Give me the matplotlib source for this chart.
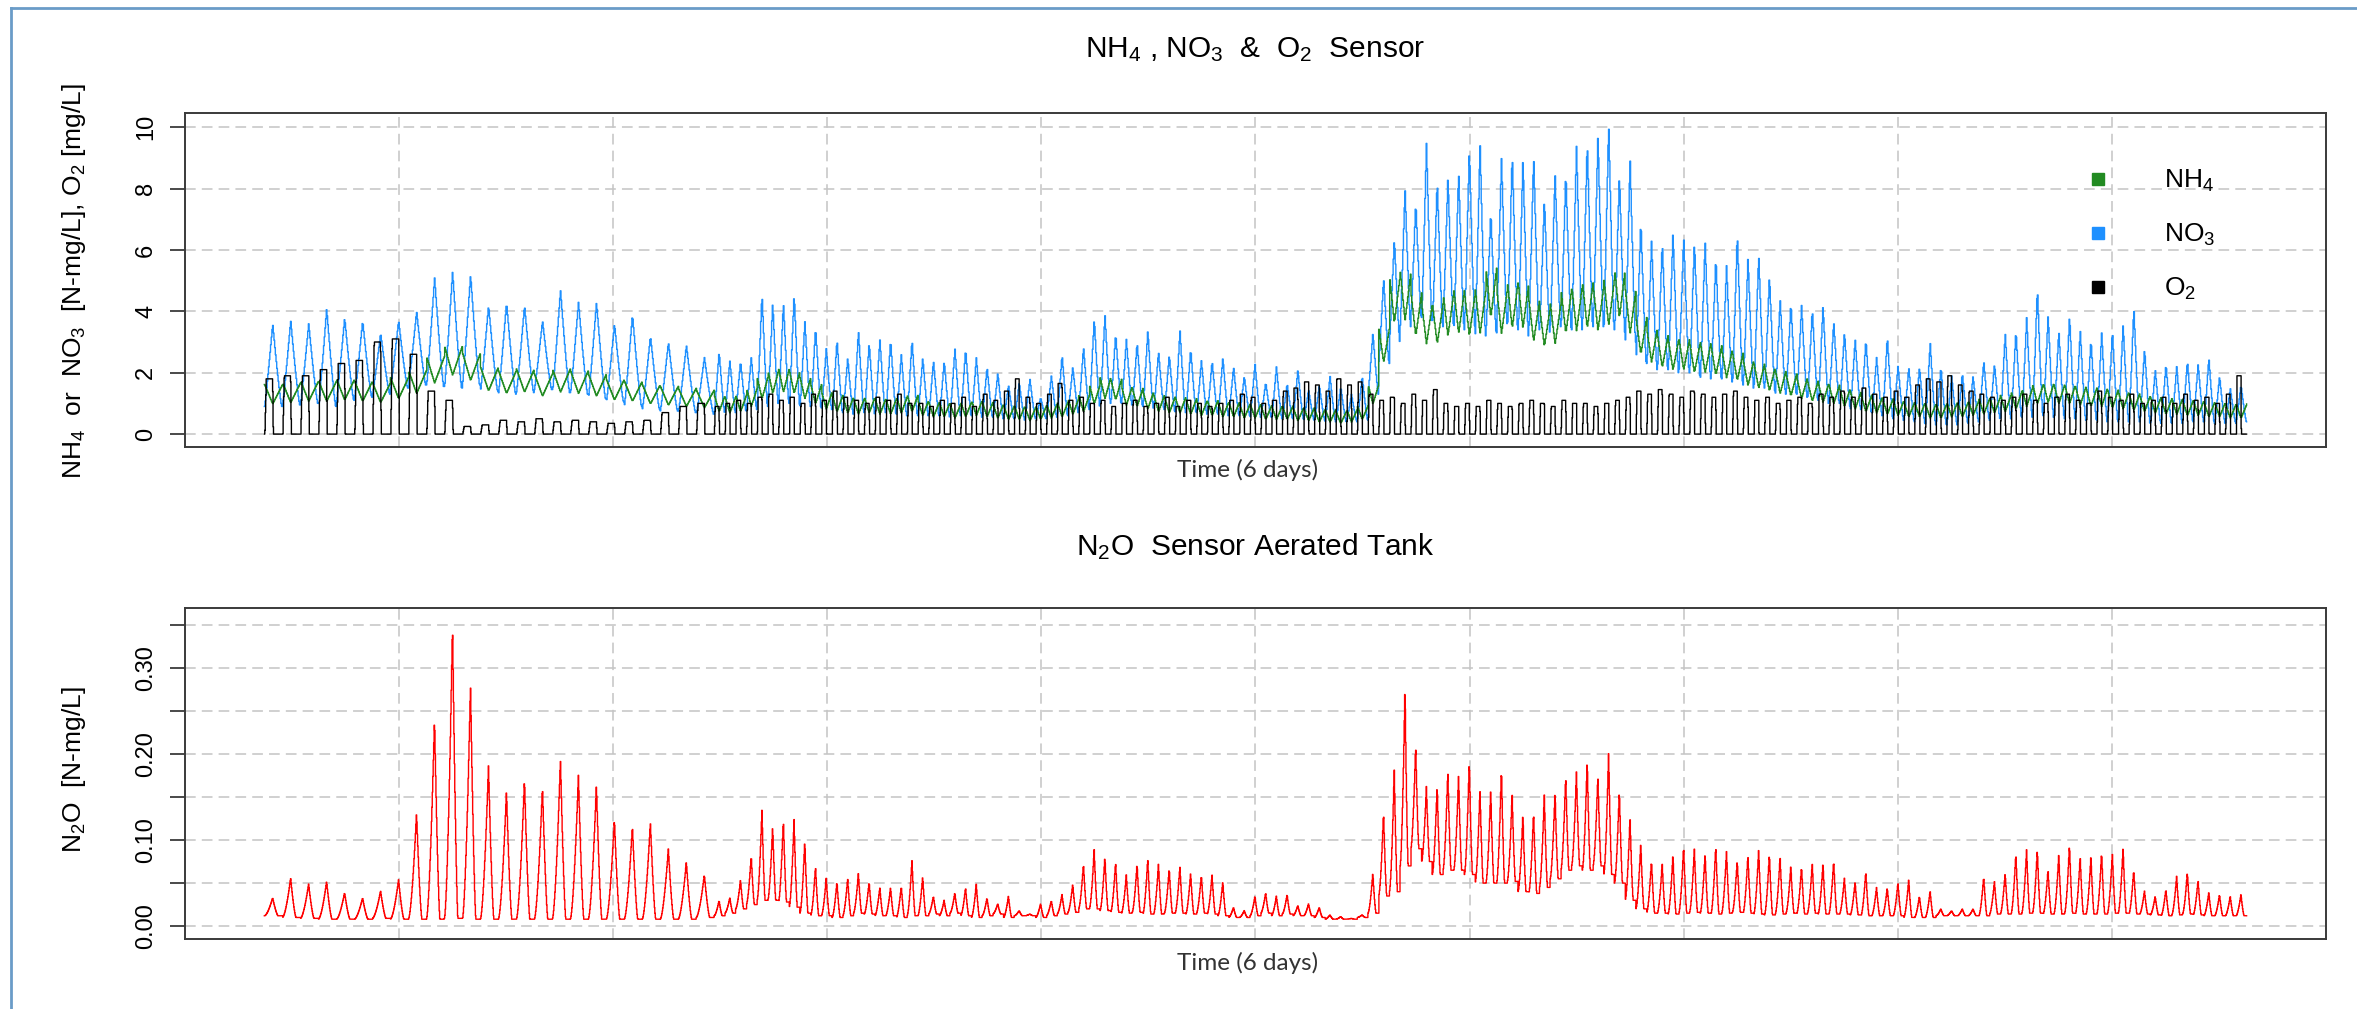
import numpy as np
import matplotlib
matplotlib.use("Agg")
import matplotlib.pyplot as plt
from matplotlib.lines import Line2D

plt.rcParams['font.family'] = ['Liberation Sans', 'DejaVu Sans']
plt.rcParams['mathtext.fontset'] = 'custom'
plt.rcParams['mathtext.rm'] = 'Liberation Sans'
plt.rcParams['mathtext.it'] = 'Liberation Sans:italic'

# ---- data, read per aeration cycle from the picture ----
total_min = 8640          # 6 days, 1 sample / minute
split_min = 1960          # long cycles before, short cycles after
n_cycles_a = 25
n_cycles_b = 143

no3_peak_a = [3.6, 3.7, 3.6, 4.1, 3.8, 3.7, 3.3, 3.7, 4.0, 5.1, 5.3, 5.2, 4.2, 4.3, 4.2, 3.7, 4.7, 4.3, 4.3, 3.6,
              3.9, 3.2, 3.0, 2.9, 2.5]
no3_low_a = [0.9, 0.95, 1.0, 0.9, 1.1, 1.2, 1.3, 1.5, 1.6, 1.55, 1.5, 1.6, 1.4, 1.3, 1.35, 1.45, 1.35, 1.3, 1.15, 1.05,
             0.9, 0.8, 0.75, 0.7, 0.65]
nh4_a = [1.3, 1.35, 1.4, 1.4, 1.45, 1.4, 1.35, 1.5, 1.7, 2.1, 2.4, 2.2, 1.8, 1.7, 1.75, 1.6, 1.75, 1.7, 1.6, 1.45,
         1.4, 1.3, 1.25, 1.2, 1.15]
o2_a = [1.8, 1.9, 1.9, 2.1, 2.3, 2.4, 3.0, 3.1, 2.6, 1.4, 1.1, 0.25, 0.3, 0.45, 0.4, 0.5, 0.4, 0.45, 0.4, 0.35,
        0.4, 0.45, 0.7, 0.9, 1.0]
n2o_a = [.033, .056, .049, .052, .039, .033, .041, .054, .132, .243, .353, .282, .187, .158, .172, .163, .195, .176,
         .165, .125, .117, .121, .09, .075, .06]
n2o_low_a = [.012, .01, .009, .008, .008, .008, .009, .008, .008, .008, .009, .008, .008, .008, .008, .008, .008,
             .008, .008, .008, .008, .008, .008, .008, .01]

no3_peak_b = [2.7, 2.4, 2.4, 2.5, 4.6, 4.3, 4.3, 4.6, 3.7, 3.5, 2.8, 3.1, 2.5, 3.4, 3.0, 3.1, 3.1, 2.6, 3.1,
              2.5, 2.4, 2.4, 2.8, 2.8, 2.5, 2.2, 2.0, 1.6, 1.7, 1.8, 1.2, 1.9, 2.6, 2.2, 2.85, 3.8, 3.9, 3.3, 3.1, 3.0, 3.4,
              2.7, 2.6, 3.4, 2.8, 2.4, 2.4, 2.5, 2.2, 1.9, 2.3, 1.7, 2.2, 1.65, 2.1, 1.45, 1.6, 1.9, 1.55, 1.3, 1.9,
              3.3, 5.1, 6.4, 8.0, 7.6, 9.5, 8.3, 8.4, 8.6, 9.35, 9.5, 7.3, 9.0, 9.2, 9.0, 9.1, 7.7, 8.5, 8.6, 9.4,
              9.6, 9.8, 10.2, 8.5, 9.0, 7.0, 6.3, 6.3, 6.6, 6.5, 6.3, 6.3, 5.8, 5.5, 6.6, 5.8, 5.9, 5.2, 4.4, 4.3,
              4.2, 4.1, 4.2, 3.7, 3.35, 3.1, 3.1, 2.5, 3.2, 2.25, 2.2, 2.2, 3.0, 2.2, 1.9, 2.0, 1.9, 2.4, 2.3, 3.3,
              3.4, 3.8, 4.8, 3.9, 3.4, 3.9, 3.4, 3.1, 3.3, 3.4, 3.6, 4.15, 2.8, 2.1, 2.3, 2.2, 2.4, 2.3, 2.5, 1.9, 1.5, 1.6]
no3_low_b = [0.7, 0.7, 0.75, 0.8, 0.9, 1.0, 1.0, 0.95, 0.9, 0.85, 0.8, 0.7, 0.65, 0.7, 0.65, 0.7, 0.65, 0.6, 0.6,
             0.6, 0.6, 0.55, 0.6, 0.6, 0.55, 0.55, 0.5, 0.5, 0.45, 0.5, 0.5, 0.55, 0.6, 0.7, 0.8, 0.9, 1.0, 1.0, 0.95, 0.9, 0.85,
             0.8, 0.75, 0.7, 0.7, 0.65, 0.65, 0.6, 0.6, 0.6, 0.55, 0.55, 0.5, 0.5, 0.5, 0.45, 0.45, 0.4, 0.4, 0.4, 0.45,
             1.3, 2.3, 3.0, 3.5, 3.8, 3.7, 3.5, 3.6, 3.4, 3.5, 3.2, 3.3, 3.6, 3.4, 3.2, 3.4, 3.3, 3.5, 3.4, 3.4,
             3.5, 3.5, 3.4, 3.3, 3.0, 2.3, 2.1, 2.1, 2.0, 2.0, 1.9, 1.8, 1.8, 1.7, 1.6, 1.5, 1.5, 1.4, 1.3, 1.3,
             1.2, 1.1, 1.0, 1.0, 0.9, 0.8, 0.7, 0.6, 0.5, 0.45, 0.4, 0.35, 0.3, 0.3, 0.3, 0.35, 0.4, 0.45, 0.5, 0.5,
             0.55, 0.55, 0.6, 0.55, 0.5, 0.5, 0.45, 0.45, 0.4, 0.4, 0.4, 0.4, 0.35, 0.35, 0.35, 0.35, 0.4, 0.4, 0.35, 0.35, 0.35, 0.4]
nh4_b = [1.0, 0.95, 1.0, 1.2, 1.5, 1.7, 1.75, 1.7, 1.5, 1.3, 1.1, 1.0, 0.95, 0.9, 0.95, 0.9, 0.9, 0.95, 1.0,
         0.85, 0.8, 0.8, 0.75, 0.8, 0.85, 0.8, 0.75, 0.7, 0.7, 0.65, 0.7, 0.75, 0.8, 0.9, 1.0, 1.3, 1.5, 1.45, 1.25, 1.2, 1.1,
         1.0, 0.95, 0.95, 0.9, 0.85, 0.85, 0.8, 0.8, 0.75, 0.75, 0.7, 0.7, 0.7, 0.65, 0.65, 0.6, 0.6, 0.55, 0.6, 0.7,
         1.3, 2.9, 4.4, 4.5, 3.9, 3.6, 3.6, 3.9, 4.0, 3.9, 4.0, 4.6, 4.0, 4.2, 4.2, 3.7, 3.5, 3.6, 4.0, 4.1,
         4.2, 4.1, 4.3, 4.6, 4.0, 3.2, 2.9, 2.7, 2.6, 2.6, 2.5, 2.5, 2.4, 2.3, 2.2, 2.0, 1.9, 1.8, 1.7, 1.6,
         1.5, 1.4, 1.35, 1.3, 1.2, 1.1, 1.0, 0.95, 0.9, 0.85, 0.8, 0.8, 0.75, 0.75, 0.8, 0.8, 0.85, 0.9, 0.95, 1.0,
         1.1, 1.2, 1.3, 1.35, 1.3, 1.3, 1.25, 1.2, 1.2, 1.15, 1.1, 1.05, 1.0, 0.95, 0.9, 0.9, 0.85, 0.85, 0.8, 0.8, 0.75, 0.75]
o2_b = [0.9, 1.0, 1.1, 1.0, 1.2, 1.3, 1.1, 1.2, 1.0, 1.3, 1.1, 1.4, 1.2, 1.1, 1.0, 1.2, 1.1, 1.3, 1.0,
        1.0, 0.9, 1.1, 1.0, 1.2, 0.9, 1.3, 1.1, 1.4, 1.8, 1.2, 1.0, 1.3, 1.65, 1.1, 1.2, 1.0, 1.1, 0.9, 1.0, 1.1, 0.9,
        1.0, 1.2, 0.9, 1.1, 1.0, 0.9, 1.0, 1.1, 1.3, 1.2, 1.0, 1.1, 1.4, 1.5, 1.7, 1.6, 1.4, 1.8, 1.6, 1.7,
        1.3, 1.1, 1.2, 1.0, 1.3, 1.1, 1.45, 1.0, 0.9, 1.0, 0.9, 1.1, 1.0, 0.9, 1.0, 1.1, 1.0, 0.9, 1.1, 1.0,
        1.0, 0.9, 1.0, 1.1, 1.2, 1.4, 1.3, 1.45, 1.3, 1.2, 1.4, 1.3, 1.2, 1.3, 1.4, 1.2, 1.1, 1.2, 1.0, 1.1,
        1.2, 1.0, 1.3, 1.2, 1.4, 1.2, 1.5, 1.3, 1.2, 1.4, 1.2, 1.6, 1.8, 1.7, 1.9, 1.6, 1.4, 1.3, 1.2, 1.1,
        1.2, 1.3, 1.1, 1.0, 1.2, 1.3, 1.1, 1.0, 1.4, 1.2, 1.1, 1.3, 1.0, 1.1, 1.2, 1.0, 1.3, 1.1, 1.2, 1.0, 1.3, 1.9]
n2o_b = [.03, .033, .054, .083, .136, .117, .125, .124, .10, .07, .056, .052, .056, .062, .052, .045, .045, .047, .077,
         .058, .035, .03, .039, .045, .049, .033, .026, .035, .018, .014, .026, .03, .037, .049, .073, .089, .081, .075, .06, .073, .079,
         .073, .068, .07, .062, .06, .06, .052, .022, .018, .035, .039, .035, .037, .024, .026, .022, .013, .011, .009, .013,
         .062, .134, .182, .28, .212, .163, .165, .182, .176, .195, .16, .159, .186, .154, .13, .134, .153, .157, .176, .18,
         .195, .176, .203, .16, .127, .096, .077, .073, .083, .094, .09, .085, .094, .087, .077, .083, .089, .085, .081, .07,
         .07, .073, .073, .077, .056, .052, .064, .045, .045, .051, .054, .035, .041, .02, .018, .02, .02, .058, .052, .062,
         .085, .089, .09, .066, .083, .096, .081, .081, .087, .085, .092, .066, .041, .035, .043, .058, .063, .054, .039, .037, .035, .037]
n2o_low_b = [.012, .015, .02, .025, .03, .03, .028, .022, .015, .012, .012, .01, .012, .015, .014, .012, .012, .01, .012,
             .012, .014, .012, .015, .012, .01, .012, .014, .01, .012, .012, .01, .012, .014, .016, .02, .02, .018, .016, .015, .016, .014,
             .014, .015, .015, .014, .015, .014, .012, .01, .01, .012, .015, .012, .014, .012, .012, .01, .008, .008, .008, .01,
             .015, .035, .04, .07, .09, .075, .06, .065, .065, .06, .05, .05, .05, .052, .04, .038, .045, .055, .065, .07,
             .065, .07, .06, .05, .03, .02, .015, .015, .014, .015, .016, .015, .014, .015, .016, .015, .014, .013, .014, .015,
             .014, .015, .014, .014, .014, .013, .012, .012, .012, .012, .01, .01, .01, .012, .012, .012, .012, .012, .014, .014,
             .014, .015, .015, .014, .014, .015, .014, .014, .014, .015, .015, .014, .014, .013, .012, .013, .014, .013, .012, .012, .012, .012]

# ---- build the per-minute traces from the cycle values ----
edges = np.concatenate([np.linspace(0, split_min, n_cycles_a + 1)[:-1],
                        np.linspace(split_min, total_min, n_cycles_b + 1)])
n_cyc = n_cycles_a + n_cycles_b


def cycle_phase(t):
    c = np.clip(np.searchsorted(edges, t, side='right') - 1, 0, n_cyc - 1)
    p = (t - edges[c]) / (edges[c + 1] - edges[c])
    return c, np.clip(p, 0, 1)


t = np.arange(total_min + 1, dtype=float)

# sensors with a slow update -> held values
c3, p3 = cycle_phase((t // 3) * 3)
pk = np.array(no3_peak_a + no3_peak_b)[c3]
lo = np.array(no3_low_a + no3_low_b)[c3]
rise = np.clip(p3 / 0.45, 0, 1) ** 1.1
fall = np.clip(1 - (p3 - 0.45) / 0.50, 0, 1) ** 1.2
no3 = lo + (pk - lo) * np.where(p3 < 0.45, rise, fall)

lvl = np.array(nh4_a + nh4_b)[c3]
sw = 0.15 * lvl + 0.12
saw = np.where(p3 < 0.45, 1 - 2 * p3 / 0.45, -1 + 2 * (p3 - 0.45) / 0.55)
nh4 = lvl + sw * saw

c2, p2 = cycle_phase((t // 2) * 2)
o2pk = np.array(o2_a + o2_b)[c2]
o2 = o2pk * np.clip((p2 - 0.02) / 0.08, 0, 1) * np.clip(1 - (p2 - 0.45) / 0.04, 0, 1)

c1, p1 = cycle_phase((t // 2) * 2)
npk = np.array(n2o_a + n2o_b)[c1]
nlo = np.array(n2o_low_a + n2o_low_b)[c1]
nr = np.clip(p1 / 0.45, 0, 1) ** 1.6
nf = np.clip(1 - (p1 - 0.45) / 0.30, 0, 1) ** 1.4
n2o = nlo + (npk - nlo) * np.where(p1 < 0.45, nr, nf)

# ---- figure ----
fig = plt.figure(figsize=(23.57, 10.09), dpi=100)
ax1 = fig.add_axes([0.0785, 0.557, 0.9083, 0.331])
ax2 = fig.add_axes([0.0785, 0.0694, 0.9083, 0.328])

min_per_unit = total_min / 9.26
grid_x = (0.63 + np.arange(9)) * min_per_unit
grid_kw = dict(color='#c4c4c4', lw=1.1, ls=(0, (7, 4)), zorder=0)

for ax in (ax1, ax2):
    ax.set_xlim(-0.04 * total_min, 1.04 * total_min)
    ax.set_xticks([])
    for gx in grid_x:
        ax.axvline(gx, **grid_kw)
    for s in ax.spines.values():
        s.set_color('#3a3a3a')
        s.set_linewidth(1.4)
    ax.tick_params(axis='y', length=11, width=1.3, color='#3a3a3a', pad=9, labelsize=17)

ax1.plot(t, no3, color='#1e90ff', lw=1.0, drawstyle='steps-post')
ax1.plot(t, nh4, color='#228b22', lw=1.0, drawstyle='steps-post')
ax1.plot(t, o2, color='black', lw=1.0, drawstyle='steps-post')
ax1.set_ylim(-0.42, 10.46)
yt1 = [0, 2, 4, 6, 8, 10]
ax1.set_yticks(yt1)
ax1.set_yticklabels([str(v) for v in yt1], rotation=90, va='center')
for v in yt1:
    ax1.axhline(v, **grid_kw)

ax2.plot(t, n2o, color='#ff0000', lw=1.0, drawstyle='steps-post')
ax2.set_ylim(-0.015, 0.370)
yt2 = np.arange(0, 0.351, 0.05)
ax2.set_yticks(yt2)
ax2.set_yticklabels(['%.2f' % v if i % 2 == 0 else '' for i, v in enumerate(yt2)], rotation=90, va='center')
for v in yt2:
    ax2.axhline(v, **grid_kw)

handles = [Line2D([], [], ls='none', marker='s', ms=8, color=c) for c in ('#228b22', '#1e90ff', 'black')]
ax1.legend(handles, ['NH$_4$', 'NO$_3$', 'O$_2$'], loc='upper left',
           bbox_to_anchor=(2072 / 2357, 1 - 155 / 1009), bbox_transform=fig.transFigure,
           frameon=False, fontsize=19, handlelength=1.0, handletextpad=2.0, labelspacing=1.05, borderpad=0)

fig.text(0.5325, 0.9504, 'NH$_4$ , NO$_3$  &  O$_2$  Sensor', ha='center', va='center', fontsize=21.5)
fig.text(0.5325, 0.4579, 'N$_2$O  Sensor Aerated Tank', ha='center', va='center', fontsize=21.5)
fig.text(0.5295, 0.534, 'Time (6 days)', ha='center', va='center', fontsize=17.5, color='#333333', family='Lato')
fig.text(0.5295, 0.0456, 'Time (6 days)', ha='center', va='center', fontsize=17.5, color='#333333', family='Lato')
fig.text(0.0314, 0.7215, 'NH$_4$  or  NO$_3$  [N-mg/L], O$_2$ [mg/L]', rotation=90, ha='center', va='center', fontsize=19)
fig.text(0.0314, 0.2369, 'N$_2$O  [N-mg/L]', rotation=90, ha='center', va='center', fontsize=19)

# outer frame (top and left edge)
fig.add_artist(Line2D([11 / 2357, 11 / 2357], [0, 1 - 8 / 1009], color='#6a9cc8', lw=2))
fig.add_artist(Line2D([11 / 2357, 1], [1 - 8 / 1009, 1 - 8 / 1009], color='#6a9cc8', lw=2))

fig.savefig('out.png', dpi=100)
